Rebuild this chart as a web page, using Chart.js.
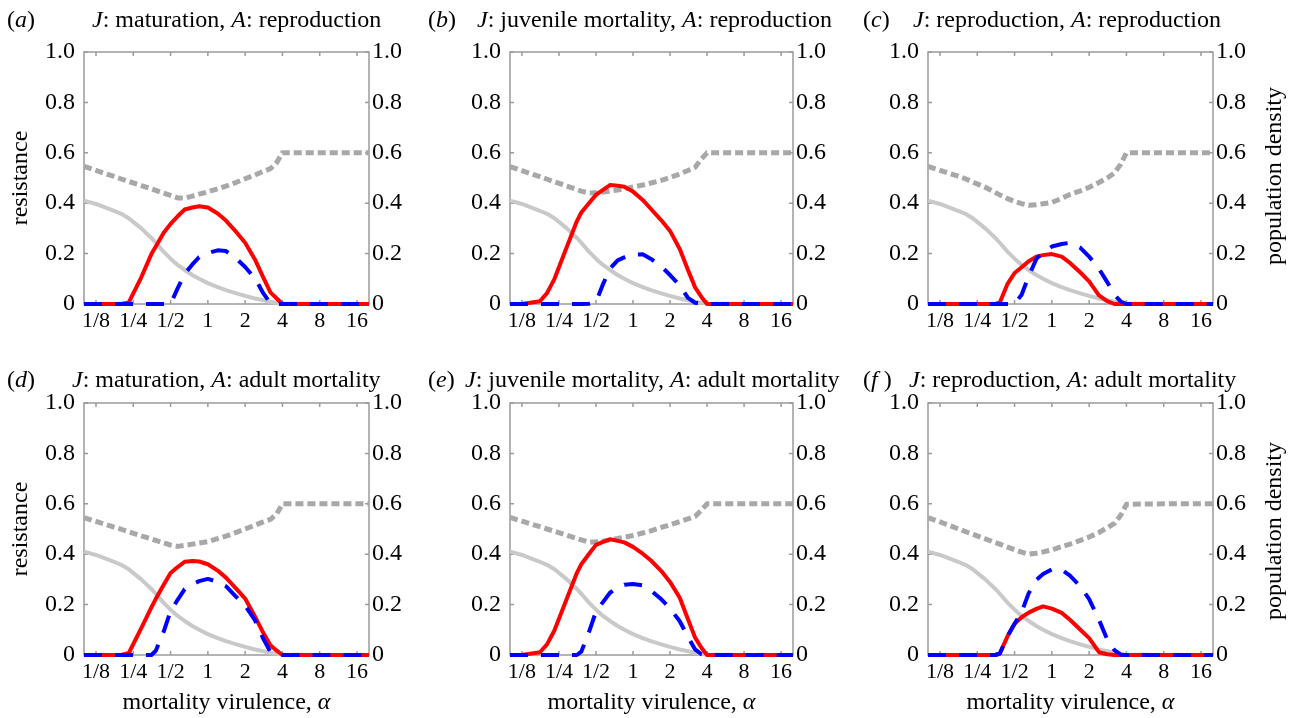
<!DOCTYPE html>
<html>
<head>
<meta charset="utf-8">
<title>resistance vs mortality virulence</title>
<script src="https://cdn.jsdelivr.net/npm/chart.js@4.4.0/dist/chart.umd.min.js"></script>
<style>
  body{margin:0;background:#fff;width:1296px;height:718px;position:relative;overflow:hidden;
       font-family:"Liberation Serif","Times New Roman",serif;color:#000}
  canvas{position:absolute}
  .lbl{position:absolute;font-size:24px;line-height:28px;white-space:nowrap}
  .xlab{position:absolute;font-size:24px;line-height:28px;white-space:nowrap;transform:translateX(-50%)}
  .vlab{position:absolute;font-size:24px;line-height:28px;white-space:nowrap;
        transform:translate(-50%,-50%) rotate(-90deg)}
</style>
</head>
<body>
<script>
// --- Data: mortality virulence grid (x) and curves ---
const alpha = [0.1,0.125,0.175,0.2,0.23,0.29,0.35,0.38,0.44,0.5,0.57,0.65,0.75,0.85,1,1.2,1.4,1.7,2,2.4,2.8,3.2,3.6,4,8,20];

const xTickValues = [0.125,0.25,0.5,1,2,4,8,16];
const xTickLabels = ['1/8','1/4','1/2','1','2','4','8','16'];
const yTickValues = [0,0.2,0.4,0.6,0.8,1.0];

// grey solid curve, same in every panel
const greySolid = [0.41,0.397,0.37,0.358,0.34,0.3,0.262,0.243,0.207,0.18,0.155,0.135,0.115,0.1,0.083,0.067,0.055,0.042,0.032,0.022,0.015,0.009,0.005,0.002,0,0];

// (a) J: maturation, A: reproduction
const redA  = [0,0,0,0,0.006,0.106,0.198,0.228,0.283,0.318,0.348,0.375,0.383,0.388,0.383,0.359,0.331,0.285,0.243,0.177,0.106,0.046,0.022,0,0,0];
const blueA = [0,0,0,0,0,0,0,0,0,0,0.062,0.12,0.157,0.186,0.202,0.213,0.21,0.18,0.147,0.102,0.043,0.003,0,0,0,0];
const dotA  = [0.546,0.53,0.506,0.496,0.486,0.47,0.457,0.451,0.44,0.431,0.421,0.42,0.428,0.436,0.445,0.457,0.468,0.483,0.497,0.512,0.526,0.537,0.562,0.6,0.6,0.6];

// (b) J: juvenile mortality, A: reproduction
const redB  = [0,0,0.011,0.043,0.1,0.227,0.329,0.363,0.401,0.433,0.453,0.472,0.469,0.465,0.446,0.413,0.377,0.332,0.29,0.218,0.135,0.066,0.028,0,0,0];
const blueB = [0,0,0,0,0,0,0,0,0.001,0.008,0.078,0.14,0.173,0.185,0.196,0.197,0.179,0.149,0.115,0.074,0.024,0.005,0,0,0,0];
const dotB  = [0.545,0.529,0.505,0.495,0.485,0.468,0.454,0.448,0.44,0.441,0.444,0.448,0.452,0.457,0.464,0.472,0.48,0.491,0.502,0.516,0.53,0.543,0.575,0.6,0.6,0.6];

// (c) J: reproduction, A: reproduction
const redC  = [0,0,0,0,0,0,0,0.006,0.081,0.123,0.146,0.17,0.188,0.194,0.198,0.188,0.163,0.125,0.09,0.034,0.011,0,0,0,0,0];
const blueC = [0,0,0,0,0,0,0,0,0,0,0.037,0.11,0.179,0.205,0.228,0.238,0.243,0.223,0.188,0.14,0.087,0.036,0.01,0,0,0];
const dotC  = [0.546,0.53,0.507,0.497,0.484,0.463,0.442,0.433,0.418,0.407,0.398,0.392,0.394,0.398,0.403,0.419,0.435,0.449,0.463,0.482,0.5,0.52,0.555,0.6,0.6,0.6];

// (d) J: maturation, A: adult mortality
const redD  = [0,0,0,0,0.008,0.107,0.189,0.223,0.279,0.325,0.349,0.37,0.373,0.371,0.36,0.335,0.307,0.262,0.224,0.153,0.088,0.039,0.017,0,0,0];
const blueD = [0,0,0,0,0,0,0,0.017,0.093,0.174,0.219,0.261,0.28,0.293,0.302,0.29,0.273,0.23,0.196,0.138,0.065,0.012,0,0,0,0];
const dotD  = [0.545,0.53,0.507,0.499,0.489,0.473,0.461,0.455,0.445,0.436,0.431,0.435,0.44,0.444,0.45,0.462,0.472,0.487,0.5,0.515,0.528,0.538,0.56,0.6,0.6,0.6];

// (e) J: juvenile mortality, A: adult mortality
const redE  = [0,0,0.011,0.042,0.098,0.224,0.326,0.36,0.402,0.437,0.449,0.459,0.453,0.447,0.429,0.402,0.375,0.333,0.29,0.227,0.142,0.069,0.029,0,0,0];
const blueE = [0,0,0,0,0,0,0,0.013,0.093,0.172,0.21,0.247,0.268,0.279,0.282,0.276,0.256,0.221,0.185,0.134,0.072,0.022,0.003,0,0,0];
const dotE  = [0.546,0.531,0.509,0.5,0.491,0.475,0.462,0.457,0.447,0.449,0.452,0.457,0.462,0.467,0.474,0.484,0.493,0.506,0.517,0.529,0.54,0.55,0.575,0.6,0.6,0.6];

// (f) J: reproduction, A: adult mortality
const redF  = [0,0,0,0,0,0,0,0.006,0.076,0.124,0.15,0.168,0.183,0.193,0.184,0.167,0.14,0.1,0.067,0.011,0.003,0,0,0,0,0];
const blueF = [0,0,0,0,0,0,0,0.006,0.076,0.124,0.17,0.245,0.298,0.321,0.34,0.338,0.315,0.272,0.222,0.14,0.062,0.019,0.001,0,0,0];
const dotF  = [0.545,0.528,0.501,0.49,0.479,0.461,0.446,0.44,0.428,0.418,0.408,0.4,0.404,0.409,0.417,0.43,0.44,0.455,0.468,0.486,0.505,0.522,0.555,0.598,0.6,0.6];

// --- Layout of the six panels (canvas box + fixed axis sizes) ---
const SERIF = '"Liberation Serif","Times New Roman",serif';
const PANELS = [
  {tag:'a', J:'maturation',         A:'reproduction',    red:redA, blue:blueA, dot:dotA, left:0,   top:0,   w:430, h:340, L:84, R:61, T:52, B:36, tagX:7,   titleX:92,  titleY:5},
  {tag:'b', J:'juvenile mortality', A:'reproduction',    red:redB, blue:blueB, dot:dotB, left:430, top:0,   w:430, h:340, L:80, R:67, T:52, B:36, tagX:428, titleX:477, titleY:5},
  {tag:'c', J:'reproduction',       A:'reproduction',    red:redC, blue:blueC, dot:dotC, left:860, top:0,   w:436, h:340, L:68, R:83, T:52, B:36, tagX:863, titleX:913, titleY:5},
  {tag:'d', J:'maturation',         A:'adult mortality', red:redD, blue:blueD, dot:dotD, left:0,   top:340, w:430, h:378, L:84, R:61, T:63, B:63, tagX:7,   titleX:72,  titleY:365},
  {tag:'e', J:'juvenile mortality', A:'adult mortality', red:redE, blue:blueE, dot:dotE, left:430, top:340, w:430, h:378, L:80, R:67, T:63, B:63, tagX:428, titleX:465, titleY:365},
  {tag:'f', J:'reproduction',       A:'adult mortality', red:redF, blue:blueF, dot:dotF, left:860, top:340, w:436, h:378, L:68, R:83, T:63, B:63, tagX:863, titleX:909, titleY:365}
];

// box round the plot + short inward ticks
const framePlugin = {
  id:'frame',
  beforeDatasetsDraw(chart){
    const {ctx, chartArea:a, scales} = chart;
    ctx.save();
    ctx.strokeStyle = '#9b9b9b';
    ctx.lineWidth = 1.5;
    ctx.strokeRect(a.left, a.top, a.right-a.left, a.bottom-a.top);
    ctx.beginPath();
    xTickValues.forEach(v=>{
      const x = scales.x.getPixelForValue(v);
      ctx.moveTo(x,a.bottom); ctx.lineTo(x,a.bottom-4);
      ctx.moveTo(x,a.top); ctx.lineTo(x,a.top+4);
    });
    yTickValues.forEach(v=>{
      const y = scales.y.getPixelForValue(v);
      ctx.moveTo(a.left,y); ctx.lineTo(a.left+4,y);
      ctx.moveTo(a.right,y); ctx.lineTo(a.right-4,y);
    });
    ctx.stroke();
    ctx.restore();
  }
};

function pts(vals){ return alpha.map((a,i)=>({x:a, y:vals[i]})); }

function addText(cls, html, left, top){
  const d = document.createElement('div');
  d.className = cls; d.innerHTML = html;
  d.style.left = left+'px'; d.style.top = top+'px';
  document.body.appendChild(d);
}

function makePanel(p, idx){
  const col = idx % 3, row = Math.floor(idx/3);
  const cv = document.createElement('canvas');
  cv.width = p.w; cv.height = p.h;
  cv.style.left = p.left+'px'; cv.style.top = p.top+'px';
  document.body.appendChild(cv);

  const yTick = {padding:9, color:'#000', font:{family:SERIF, size:24}, callback:v=> v===0 ? '0' : v.toFixed(1)};

  new Chart(cv, {
    type:'line',
    data:{datasets:[
      {data:pts(p.blue), borderColor:'#0000ff', borderWidth:4, borderDash:[18,13]},
      {data:pts(p.red),  borderColor:'#ff0000', borderWidth:4},
      {data:pts(greySolid), borderColor:'#c9c9c9', borderWidth:4},
      {data:pts(p.dot),  borderColor:'#a8a8a8', borderWidth:5, borderDash:[8,4]}
    ]},
    options:{
      responsive:false, animation:false, devicePixelRatio:1,
      layout:{padding:{top:p.T, left:0, right:0, bottom:0}},
      elements:{point:{radius:0}, line:{tension:0, borderJoinStyle:'round', borderCapStyle:'butt'}},
      datasets:{line:{clip:6}},
      plugins:{legend:{display:false}, tooltip:{enabled:false}},
      scales:{
        x:{type:'logarithmic', min:0.1, max:20,
           afterBuildTicks:s=>{ s.ticks = xTickValues.map(v=>({value:v})); },
           afterFit:s=>{ s.height = p.B; },
           grid:{display:false, drawTicks:false}, border:{display:false},
           ticks:{autoSkip:false, maxRotation:0, padding:4, color:'#000', font:{family:SERIF, size:22},
                  callback:(v,i)=>xTickLabels[i]}},
        y:{position:'left', min:0, max:1,
           afterBuildTicks:s=>{ s.ticks = yTickValues.map(v=>({value:v})); },
           afterFit:s=>{ s.width = p.L; },
           grid:{display:false, drawTicks:false}, border:{display:false},
           ticks:yTick,
           title:{display:col===0, text:'resistance', color:'#000',
                  font:{family:SERIF, size:24}, padding:{top:6, bottom:0}}},
        y1:{position:'right', min:0, max:1,
           afterBuildTicks:s=>{ s.ticks = yTickValues.map(v=>({value:v})); },
           afterFit:s=>{ s.width = p.R; },
           grid:{display:false, drawTicks:false}, border:{display:false},
           ticks:Object.assign({}, yTick, {padding:3})}
      }
    },
    plugins:[framePlugin]
  });

  // panel heading
  addText('lbl', '(<i>'+p.tag+'</i>'+(p.tag==='f'?' ':'')+')', p.tagX, p.titleY);
  addText('lbl', '<i>J</i>: '+p.J+', <i>A</i>: '+p.A, p.titleX, p.titleY);
  if(col===2) addText('vlab', 'population density', 1273, row===0 ? 176 : 531);
  if(row===1) addText('xlab', 'mortality virulence, <i>α</i>', p.left + p.L + (p.w - p.L - p.R)/2, 687);
}

PANELS.forEach(makePanel);
</script>
</body>
</html>
